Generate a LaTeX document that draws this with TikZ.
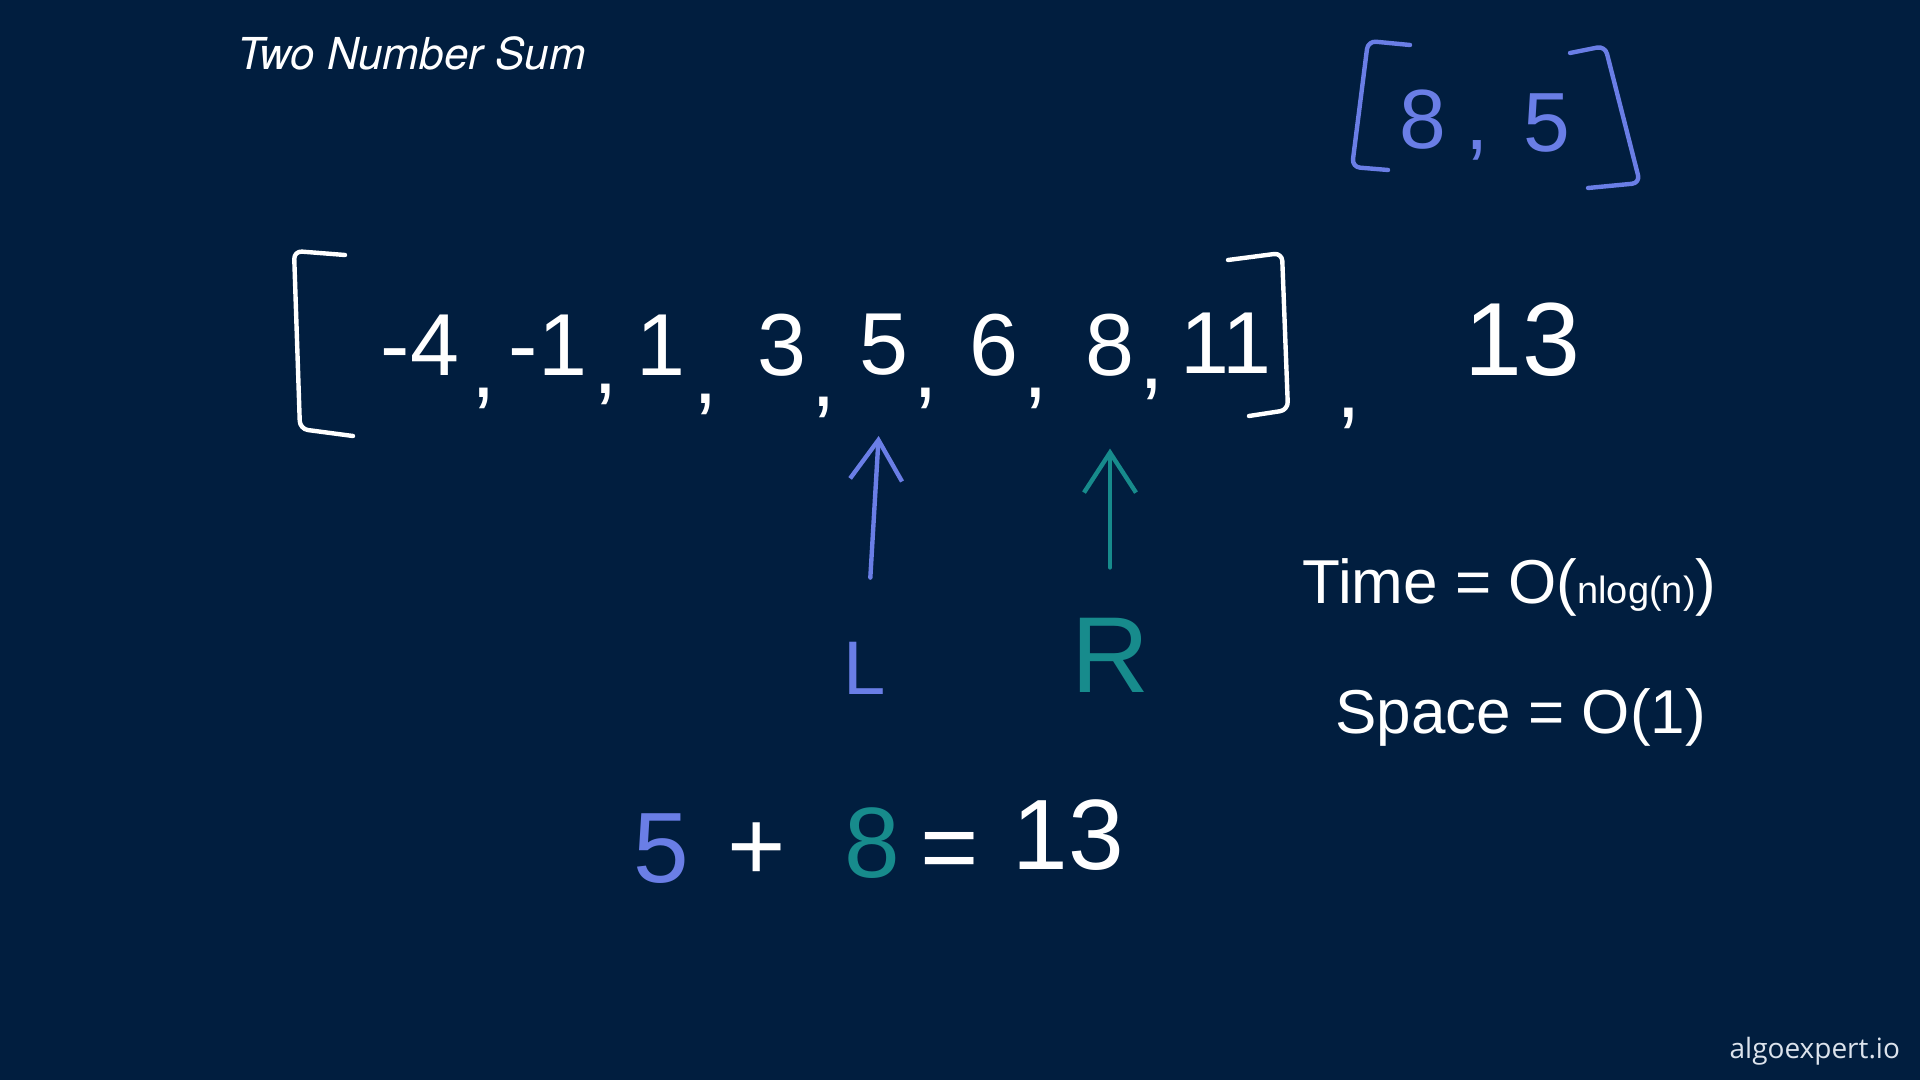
\documentclass[tikz,border=0pt]{standalone}
\usepackage{fontspec}
\setmainfont{Liberation Sans}
\newfontfamily\titlefont{TeX Gyre Heros}
\newfontfamily\markfont{Open Sans}
\usetikzlibrary{arrows.meta}
\definecolor{board}{HTML}{011E3F}
\definecolor{penblue}{HTML}{6A7EE6}
\definecolor{penteal}{HTML}{178B8C}
\definecolor{marktext}{HTML}{DCE3EC}
\newcommand\wbfont[1]{\fontsize{#1}{#1}\selectfont}
\tikzset{
  wb hand/.style={font=\wbfont{44}, text=white, inner sep=0pt},
  wb big/.style={wb hand, font=\wbfont{50}},
  wb note/.style={wb hand, font=\wbfont{31}, anchor=base west},
  wb ink/.style={line width=2.2pt, line cap=round, line join=round, rounded corners=4pt},
  wb arr/.style={wb ink, -{Straight Barb[length=20pt, width=26pt, line width=2.2pt]}},
}
\begin{document}
\begin{tikzpicture}[x=0.5pt, y=-0.5pt]
\fill[board] (0,0) rectangle (1920,1080);
\node[anchor=base west, text=white, font=\titlefont\itshape\wbfont{22}] (title) at (230,70) {Two Number Sum};
% answer pair
\draw[wb ink, penblue] (1410,45) -- (1368,41) -- (1352,167) -- (1388,170);
\draw[wb ink, penblue] (1570,53) -- (1605,46) -- (1640,183) -- (1588,188);
\node[wb hand, font=\wbfont{42}, text=penblue] (r8) at (1423,120) {8};
\node[wb hand, font=\wbfont{42}, text=penblue] (rc) at (1477,150) {,};
\node[wb hand, font=\wbfont{42}, text=penblue] (r5) at (1547,123) {5};
% sorted array
\draw[wb ink, white] (345,255) -- (294,251) -- (300,429) -- (353,436);
\draw[wb ink, white] (1228,260) -- (1282,253) -- (1288,410) -- (1249,416);
\foreach \val/\xx/\cx/\cy [count=\i] in {-4/420/484/398, -1/548/606/394, 1/661/706/404, 3/782/824/407, 5/884/926/398, 6/994/1036/398, 8/1110/1152/389}{
  \node[wb hand] (a\i) at (\xx,345) {\val};
  \node[wb hand] (c\i) at (\cx,\cy) {,};
}
\node[wb hand] (a8) at (1226,343) {11};
\node[wb hand] (c8) at (1349,418) {,};
\node[wb hand, font=\wbfont{52}] (target) at (1522,340) {13};
% pointers
\node[wb hand, font=\wbfont{38}, text=penblue] (lbl L) at (865,668) {L};
\node[wb hand, font=\wbfont{54}, text=penteal] (lbl R) at (1110,655) {R};
\draw[wb arr, penblue, shorten <=32pt, shorten >=30pt] (lbl L) -- (a5);
\draw[wb arr, penteal, shorten <=25pt, shorten >=36pt] (lbl R) -- (a7);
% sum
\node[wb big, text=penblue] (s5) at (661,849) {5};
\node[wb big] (plus) at (757,852) {+};
\node[wb big, text=penteal] (s8) at (872,843) {8};
\node[wb big] (eq) at (950,857) {=};
\node[wb big] (s13) at (1068,835) {13};
% complexity
\node[wb note] (time) at (1302,603) {Time = O(\wbfont{19}nlog(n)\wbfont{31})};
\node[wb note] (space) at (1335,733) {Space = O(1)};
\node[anchor=east, text=marktext, font=\markfont\wbfont{14}] (mark) at (1907,1051) {algoexpert.io};
\end{tikzpicture}
\end{document}
